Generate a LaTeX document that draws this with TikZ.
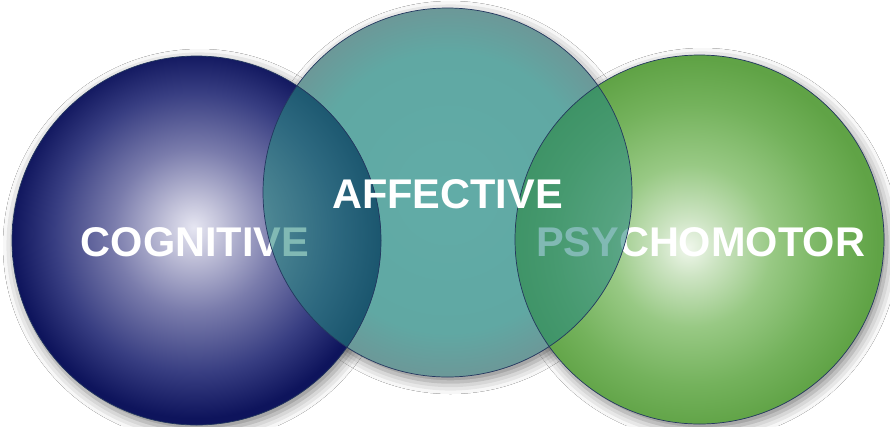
\documentclass[tikz,border=0pt]{standalone}
\usepackage{fontspec}
\setmainfont{Liberation Sans}
\usetikzlibrary{shadows.blur}
\definecolor{nv0}{RGB}{230,230,242}
\definecolor{nv1}{RGB}{192,192,216}
\definecolor{nv2}{RGB}{122,124,172}
\definecolor{nv3}{RGB}{56,62,130}
\definecolor{nv4}{RGB}{14,20,92}
\definecolor{gr0}{RGB}{240,247,236}
\definecolor{gr1}{RGB}{205,228,195}
\definecolor{gr2}{RGB}{152,201,132}
\definecolor{gr3}{RGB}{116,178,92}
\definecolor{gr4}{RGB}{96,163,70}
\definecolor{tl0}{RGB}{97,172,167}
\definecolor{tl1}{RGB}{96,168,163}
\definecolor{tl2}{RGB}{108,152,152}
\definecolor{ovl}{RGB}{38,136,126}
\definecolor{rim}{RGB}{35,55,95}
\pgfdeclareradialshading{navyball}{\pgfpoint{-0.4bp}{1.8bp}}{color(0bp)=(nv0); color(4bp)=(nv1); color(11bp)=(nv2); color(19bp)=(nv3); color(25bp)=(nv4); color(50bp)=(nv4)}
\pgfdeclareradialshading{greenball}{\pgfpoint{-1.6bp}{-1.1bp}}{color(0bp)=(gr0); color(4bp)=(gr1); color(11bp)=(gr2); color(19bp)=(gr3); color(25bp)=(gr4); color(50bp)=(gr4)}
\pgfdeclareradialshading{tealball}{\pgfpoint{0bp}{0bp}}{color(0bp)=(tl0); color(19bp)=(tl1); color(25bp)=(tl2); color(50bp)=(tl2)}
\tikzset{
  shadowed/.style={blur shadow={shadow xshift=3pt, shadow yshift=-5pt, shadow blur radius=12pt, shadow opacity=50}},
  rimline/.style={draw=rim, line width=0.7pt},
  label/.style={font=\bfseries\fontsize{41.5}{44}\selectfont, text=white, inner sep=0pt, anchor=base}
}
\begin{document}
\begin{tikzpicture}[x=1pt,y=-1pt]
\useasboundingbox[fill=white] (0,0) rectangle (890,426);
\def\R{184.5}
\coordinate (cl) at (196.5,240.5);
\coordinate (cm) at (447.5,192.5);
\coordinate (cr) at (699.5,239.5);
% shadows
\path[shadowed] (cl) circle (\R);
\path[shadowed] (cm) circle (\R);
\path[shadowed] (cr) circle (\R);
% teal base
\path[shading=tealball] (cm) circle (\R);
% side balls
\path[shading=navyball] (cl) circle (\R);
\path[shading=greenball] (cr) circle (\R);
\node[label] (cog) at (195,256.5) {COGNITIVE};
\node[label] (psy) at (700.5,256.5) {PSYCHOMOTOR};
% translucent teal over overlaps
\begin{scope}
  \clip (cm) circle (\R);
  \fill[ovl, fill opacity=0.58] (cl) circle (\R);
  \fill[ovl, fill opacity=0.58] (cr) circle (\R);
\end{scope}
% rims
\draw[rimline] (cl) circle (\R);
\draw[rimline] (cr) circle (\R);
\draw[rimline] (cm) circle (\R);
\node[label] (aff) at (447.5,208.5) {AFFECTIVE};
\end{tikzpicture}
\end{document}
